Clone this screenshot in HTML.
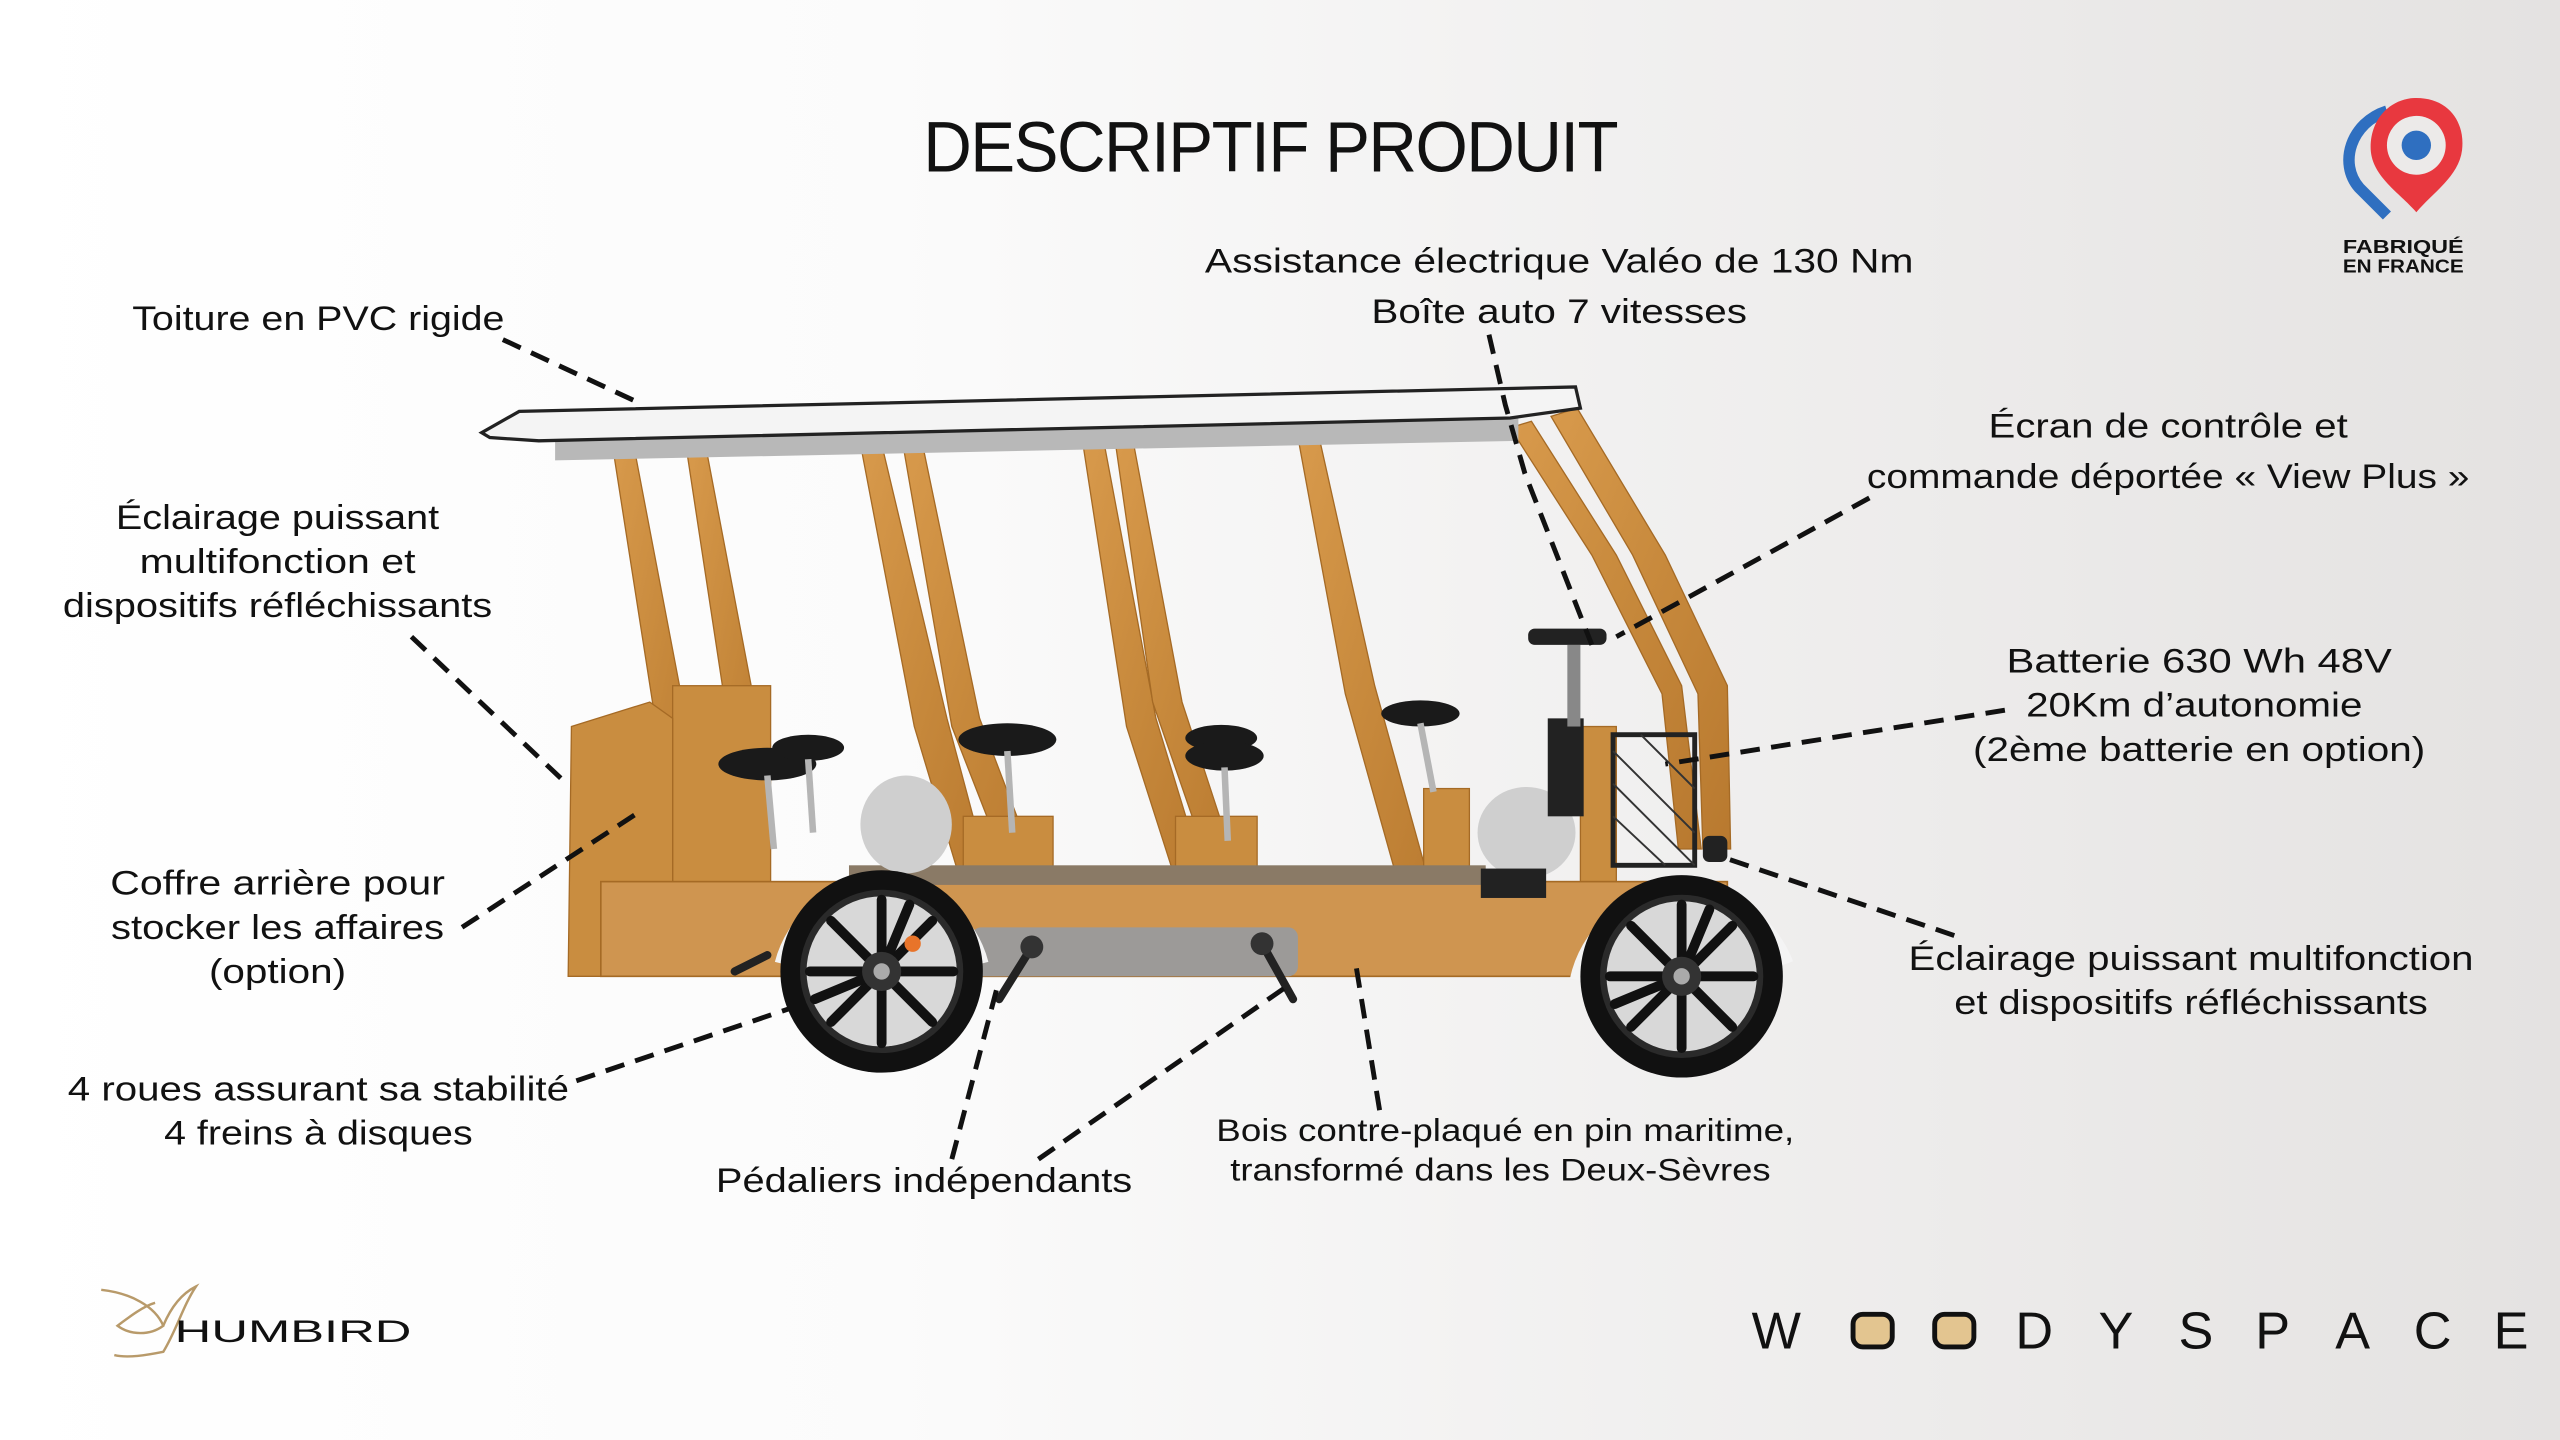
<!DOCTYPE html>
<html><head><meta charset="utf-8">
<style>
html,body{margin:0;padding:0;width:2560px;height:1440px;overflow:hidden;background:#fff}
svg{display:block}
text{font-family:"Liberation Sans",sans-serif;fill:#111}
</style></head><body>
<svg width="2560" height="1440" viewBox="0 0 1568 882" preserveAspectRatio="none" xmlns="http://www.w3.org/2000/svg">
<defs>
<linearGradient id="bg" x1="0" y1="0" x2="1" y2="0">
<stop offset="0" stop-color="#ffffff"/><stop offset="0.35" stop-color="#fbfbfb"/><stop offset="1" stop-color="#e4e2e1"/>
</linearGradient>
<linearGradient id="wood" x1="0" y1="0" x2="1" y2="1">
<stop offset="0" stop-color="#d89a4c"/><stop offset="0.5" stop-color="#c7893c"/><stop offset="1" stop-color="#b8792f"/>
</linearGradient>
<g id="wheel">
<circle r="62" fill="#111"/>
<circle r="50" fill="#2a2a2a"/>
<circle r="46" fill="#d8d8d8"/>
<g stroke="#111" stroke-width="6" stroke-linecap="round">
<line x1="0" y1="0" x2="0" y2="-44"/><line x1="0" y1="0" x2="31" y2="-31"/><line x1="0" y1="0" x2="44" y2="0"/>
<line x1="0" y1="0" x2="31" y2="31"/><line x1="0" y1="0" x2="0" y2="44"/><line x1="0" y1="0" x2="-31" y2="31"/>
<line x1="0" y1="0" x2="-44" y2="0"/><line x1="0" y1="0" x2="-31" y2="-31"/>
<line x1="0" y1="0" x2="17" y2="-41"/><line x1="0" y1="0" x2="-41" y2="17"/>
</g>
<circle r="12" fill="#333"/><circle r="5" fill="#aaa"/>
</g>
</defs>
<rect width="1568" height="882" fill="url(#bg)"/>

<text x="778" y="105" font-size="44" text-anchor="middle" textLength="425" lengthAdjust="spacingAndGlyphs" style="letter-spacing:-1px">DESCRIPTIF PRODUIT</text>

<g>
<path d="M1462 68 C1440 75 1432 100 1445 115 L1462 132" fill="none" stroke="#2f6fc0" stroke-width="7"/>
<path d="M1480 60 C1500 60 1510 75 1508 92 C1506 108 1490 118 1480 130 C1470 118 1452 108 1452 90 C1452 72 1465 60 1480 60 Z" fill="#e8383f"/>
<circle cx="1480" cy="89" r="18" fill="#eceae9"/>
<circle cx="1480" cy="89" r="9" fill="#2f6fc0"/>
<text x="1472" y="155" font-size="11.5" font-weight="bold" text-anchor="middle" textLength="74" lengthAdjust="spacingAndGlyphs">FABRIQUÉ</text>
<text x="1472" y="167" font-size="11.5" font-weight="bold" text-anchor="middle" textLength="74" lengthAdjust="spacingAndGlyphs">EN FRANCE</text>
</g>

<g>
<g fill="url(#wood)" stroke="#a56a25" stroke-width="0.8">
<polygon points="375,272 388,272 420,440 432,540 415,540 402,445"/>
<polygon points="420,272 432,272 462,430 470,540 454,540 444,430"/>
<polygon points="527,272 540,272 580,440 608,545 590,545 560,445"/>
<polygon points="553,272 565,272 600,440 640,545 622,545 583,445"/>
<polygon points="663,270 676,270 708,440 740,545 722,545 690,445"/>
<polygon points="683,270 694,270 724,430 760,540 744,540 706,430"/>
<polygon points="795,268 808,268 842,420 885,575 866,575 824,425"/>
<polygon points="925,262 938,258 990,340 1030,420 1042,520 1028,520 1018,425 975,340"/>
<polygon points="950,255 966,250 1020,340 1058,420 1060,520 1043,520 1040,425 1000,340"/>
</g>
<g fill="#c98d40" stroke="#a56a25" stroke-width="0.8">
<rect x="412" y="420" width="60" height="120"/>
<polygon points="350,445 398,430 412,440 412,598 348,598"/>
<rect x="590" y="500" width="55" height="48"/>
<rect x="720" y="500" width="50" height="48"/>
<rect x="872" y="483" width="28" height="60"/>
<rect x="968" y="445" width="22" height="95"/>
</g>
<rect x="368" y="540" width="690" height="58" fill="#cf9550" stroke="#a56a25" stroke-width="1"/>
<rect x="520" y="530" width="390" height="12" fill="#8a7a66"/>
<rect x="595" y="568" width="200" height="30" rx="6" fill="#9c9a98"/>
<ellipse cx="555" cy="505" rx="28" ry="30" fill="#cfcfcf"/>
<ellipse cx="935" cy="510" rx="30" ry="28" fill="#cfcfcf"/>
<rect x="948" y="440" width="22" height="60" fill="#222"/>
<rect x="907" y="532" width="40" height="18" fill="#222"/>
<rect x="988" y="450" width="50" height="80" fill="none" stroke="#222" stroke-width="3"/>
<path d="M988 460 L1038 510 M988 480 L1038 530 M988 500 L1020 530 M1005 450 L1038 483" stroke="#333" stroke-width="1.2"/>
<rect x="960" y="395" width="8" height="50" fill="#888"/>
<rect x="936" y="385" width="48" height="10" rx="4" fill="#222"/>
<g fill="#1a1a1a">
<ellipse cx="470" cy="468" rx="30" ry="10"/><ellipse cx="495" cy="458" rx="22" ry="8"/>
<ellipse cx="617" cy="453" rx="30" ry="10"/>
<ellipse cx="748" cy="452" rx="22" ry="8"/><ellipse cx="750" cy="463" rx="24" ry="9"/>
<ellipse cx="870" cy="437" rx="24" ry="8"/>
</g>
<g stroke="#b5b5b5" stroke-width="4">
<line x1="470" y1="475" x2="474" y2="520"/><line x1="495" y1="465" x2="498" y2="510"/>
<line x1="617" y1="460" x2="620" y2="510"/><line x1="750" y1="470" x2="752" y2="515"/>
<line x1="870" y1="443" x2="878" y2="485"/>
</g>
<polygon points="340,262 930,250 930,270 340,282" fill="#b8b8b8"/>
<polygon points="295,265 318,252 965,237 968,250 925,256 330,270 300,268" fill="#f4f4f4" stroke="#222" stroke-width="2"/>
<g stroke="#222" stroke-width="5" stroke-linecap="round">
<line x1="632" y1="580" x2="612" y2="612"/><line x1="773" y1="578" x2="792" y2="612"/>
<line x1="470" y1="585" x2="450" y2="595"/>
</g>
<circle cx="632" cy="580" r="7" fill="#333"/><circle cx="773" cy="578" r="7" fill="#333"/>
<path d="M478 590 A64 64 0 0 1 602 590" fill="none" stroke="#f4f4f4" stroke-width="7"/>
<path d="M965 600 A68 68 0 0 1 1095 590" fill="none" stroke="#f4f4f4" stroke-width="7"/>
<use href="#wheel" x="540" y="595"/>
<use href="#wheel" x="1030" y="598"/>
<circle cx="559" cy="578" r="5" fill="#e8742a"/>
<rect x="1043" y="512" width="15" height="16" rx="4" fill="#222"/>
</g>

<g stroke="#111" stroke-width="3" stroke-dasharray="12 7" fill="none">
<line x1="308" y1="208" x2="392" y2="247"/>
<line x1="252" y1="390" x2="347" y2="480"/>
<line x1="283" y1="568" x2="392" y2="497"/>
<line x1="353" y1="662" x2="483" y2="618"/>
<line x1="583" y1="710" x2="612" y2="600"/>
<line x1="636" y1="710" x2="787" y2="605"/>
<line x1="845" y1="680" x2="830" y2="588"/>
<polyline points="912,205 922,248 934,290 975,395"/>
<line x1="1145" y1="305" x2="990" y2="390"/>
<line x1="1228" y1="435" x2="1020" y2="468"/>
<line x1="1197" y1="573" x2="1055" y2="525"/>
</g>

<g font-size="21" text-anchor="middle">
<text x="195" y="202" textLength="228" lengthAdjust="spacingAndGlyphs">Toiture en PVC rigide</text>
<text x="955" y="167" textLength="434" lengthAdjust="spacingAndGlyphs">Assistance électrique Valéo de 130 Nm</text>
<text x="955" y="198" textLength="230" lengthAdjust="spacingAndGlyphs">Boîte auto 7 vitesses</text>
<text x="1328" y="268" textLength="220" lengthAdjust="spacingAndGlyphs">Écran de contrôle et</text>
<text x="1328" y="299" textLength="369" lengthAdjust="spacingAndGlyphs">commande déportée « View Plus »</text>
<text x="170" y="324" textLength="198" lengthAdjust="spacingAndGlyphs">Éclairage puissant</text>
<text x="170" y="351" textLength="169" lengthAdjust="spacingAndGlyphs">multifonction et</text>
<text x="170" y="378" textLength="263" lengthAdjust="spacingAndGlyphs">dispositifs réfléchissants</text>
<text x="1347" y="412" textLength="236" lengthAdjust="spacingAndGlyphs">Batterie 630 Wh 48V</text>
<text x="1344" y="439" textLength="206" lengthAdjust="spacingAndGlyphs">20Km d’autonomie</text>
<text x="1347" y="466" textLength="277" lengthAdjust="spacingAndGlyphs">(2ème batterie en option)</text>
<text x="170" y="548" textLength="205" lengthAdjust="spacingAndGlyphs">Coffre arrière pour</text>
<text x="170" y="575" textLength="204" lengthAdjust="spacingAndGlyphs">stocker les affaires</text>
<text x="170" y="602" textLength="84" lengthAdjust="spacingAndGlyphs">(option)</text>
<text x="1342" y="594" textLength="346" lengthAdjust="spacingAndGlyphs">Éclairage puissant multifonction</text>
<text x="1342" y="621" textLength="290" lengthAdjust="spacingAndGlyphs">et dispositifs réfléchissants</text>
<text x="195" y="674" textLength="307" lengthAdjust="spacingAndGlyphs">4 roues assurant sa stabilité</text>
<text x="195" y="701" textLength="189" lengthAdjust="spacingAndGlyphs">4 freins à disques</text>
<text x="566" y="730" textLength="255" lengthAdjust="spacingAndGlyphs">Pédaliers indépendants</text>
<text x="922" y="699" font-size="19" textLength="354" lengthAdjust="spacingAndGlyphs">Bois contre-plaqué en pin maritime,</text>
<text x="919" y="723" font-size="19" textLength="331" lengthAdjust="spacingAndGlyphs">transformé dans les Deux-Sèvres</text>
</g>

<g>
<path d="M62 790 C80 792 95 800 100 812 C92 818 80 818 72 812 C80 806 88 800 95 798 M100 812 C105 800 112 792 120 788 C112 800 108 815 100 828 C90 830 78 832 70 830" fill="none" stroke="#b89a6a" stroke-width="1.5"/>
<text x="107" y="822" font-size="19" textLength="145" lengthAdjust="spacingAndGlyphs" fill="#222">HUMBIRD</text>
</g>

<g font-size="32" text-anchor="middle" fill="#111">
<text x="1088" y="826">W</text>
<rect x="1135" y="805" width="24" height="20" rx="6" fill="#e3c590" stroke="#111" stroke-width="3"/>
<rect x="1185" y="805" width="24" height="20" rx="6" fill="#e3c590" stroke="#111" stroke-width="3"/>
<text x="1246" y="826">D</text>
<text x="1296" y="826">Y</text>
<text x="1345" y="826">S</text>
<text x="1392" y="826">P</text>
<text x="1441" y="826">A</text>
<text x="1490" y="826">C</text>
<text x="1538" y="826">E</text>
</g>
</svg>
</body></html>
